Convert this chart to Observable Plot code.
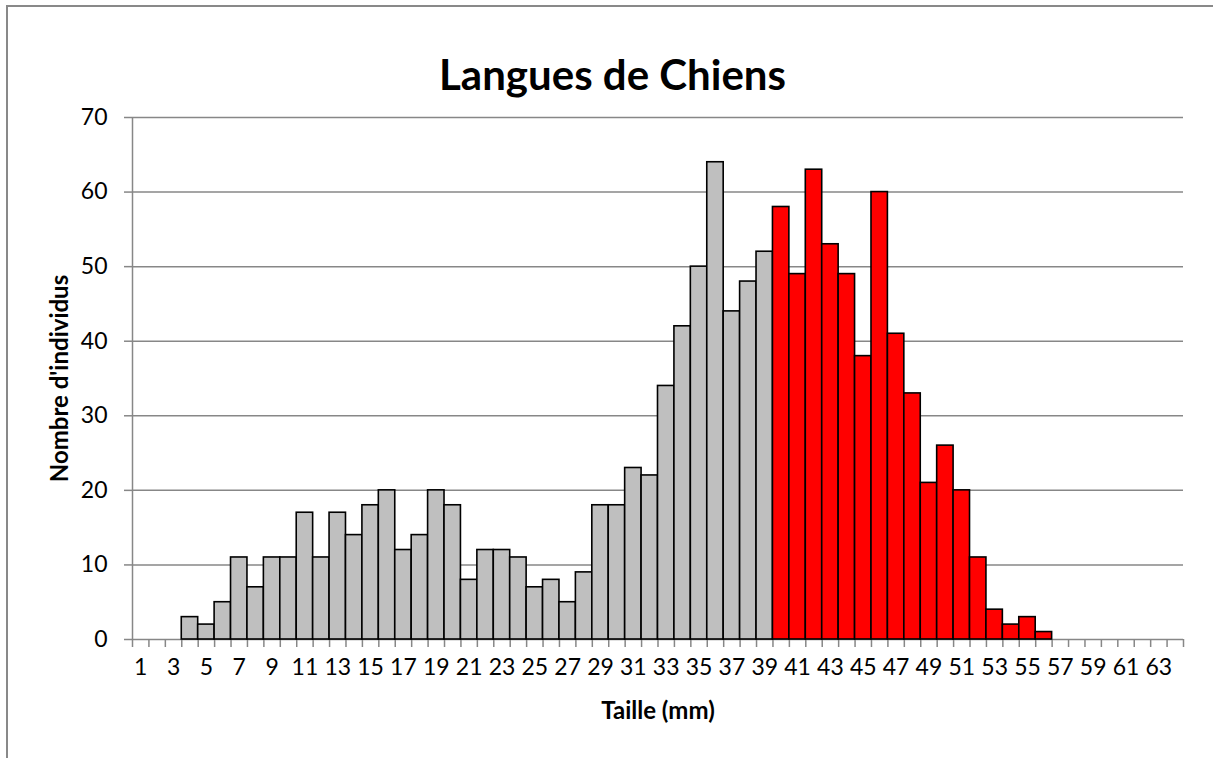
<!DOCTYPE html>
<html>
<head>
<meta charset="utf-8">
<script src="https://cdn.jsdelivr.net/npm/d3@7"></script>
<script src="https://cdn.jsdelivr.net/npm/@observablehq/plot@0.6"></script>
<style>
  html, body { margin: 0; padding: 0; background: #fff; }
  #wrap { position: relative; width: 1213px; height: 758px; overflow: hidden; }
  #frame { position: absolute; left: 6px; top: 5px; width: 1400px; height: 900px;
           border-left: 2px solid #898989; border-top: 2px solid #898989; }
  #chart { position: absolute; left: 0; top: 0; }
</style>
</head>
<body>
<div id="wrap"><div id="frame"></div><div id="chart"></div></div>
<script>
const title = "Langues de Chiens";
const xTitle = "Taille (mm)";
const yTitle = "Nombre d'individus";

const sizes = [1,2,3,4,5,6,7,8,9,10,11,12,13,14,15,16,17,18,19,20,21,22,23,24,25,26,27,28,29,30,31,32,
               33,34,35,36,37,38,39,40,41,42,43,44,45,46,47,48,49,50,51,52,53,54,55,56,57,58,59,60,61,62,63,64];
const counts = [0,0,0,3,2,5,11,7,11,11,17,11,17,14,18,20,12,14,20,18,8,12,12,11,7,8,5,9,18,18,23,22,
                34,42,50,64,44,48,52,58,49,63,53,49,38,60,41,33,21,26,20,11,4,2,3,1,0,0,0,0,0,0,0,0];
const xTickLabels = [1,3,5,7,9,11,13,15,17,19,21,23,25,27,29,31,33,35,37,39,41,43,45,47,49,51,53,55,57,59,61,63];
const yTicks = [0,10,20,30,40,50,60,70];
const redFrom = 40;

const grey = "#BFBFBF", red = "#FF0000", gridColor = "#878787";

const data = sizes.map((s, i) => ({size: s, count: counts[i]})).filter(d => d.count > 0);
const boundaries = sizes.map(s => s - 0.5).concat([sizes[sizes.length - 1] + 0.5]);

const chart = Plot.plot({
  width: 1213,
  height: 758,
  marginLeft: 132,
  marginRight: 30,
  marginTop: 117,
  marginBottom: 119,
  style: {fontFamily: "Lato, 'Open Sans', sans-serif", fontSize: "22px", color: "#000", background: "transparent", overflow: "visible"},
  x: {type: "linear", domain: [boundaries[0], boundaries[boundaries.length - 1]]},
  y: {domain: [0, 70]},
  color: {type: "identity"},
  marks: [
    Plot.gridY(yTicks, {stroke: gridColor, strokeOpacity: 1, strokeWidth: 1.5}),
    Plot.axisY(yTicks, {tickSize: 8, tickFormat: () => "", stroke: gridColor, strokeWidth: 1.5, label: null}),
    Plot.axisX(boundaries, {tickSize: 8, tickFormat: () => "", stroke: gridColor, strokeWidth: 1.5, label: null}),
    Plot.text(yTicks, {y: d => d, text: d => String(d), frameAnchor: "left", dx: -25, textAnchor: "end", fontSize: 23, fill: "#000"}),
    Plot.text(xTickLabels, {x: d => d, text: d => String(d), frameAnchor: "bottom", dy: 35, textAnchor: "middle", fontSize: 23, fill: "#000"}),
    Plot.ruleX([boundaries[0]], {stroke: gridColor, strokeWidth: 1.5}),
    Plot.rect(data, {
      x1: d => d.size - 0.5, x2: d => d.size + 0.5, y1: 0, y2: "count",
      fill: d => d.size >= redFrom ? red : grey, stroke: "#000", strokeWidth: 1.6
    }),
    Plot.text([title], {frameAnchor: "top-left", dx: 480, dy: -57, fontSize: 42, fontWeight: "bold", textAnchor: "middle", fill: "#000"}),
    Plot.text([xTitle], {frameAnchor: "bottom", dy: 79, fontSize: 24, fontWeight: "bold", textAnchor: "middle", fill: "#000"}),
    Plot.text([yTitle], {frameAnchor: "left", dx: -72, rotate: -90, fontSize: 24, fontWeight: "bold", textAnchor: "middle", fill: "#000"})
  ]
});
document.getElementById("chart").appendChild(chart);
</script>
</body>
</html>
